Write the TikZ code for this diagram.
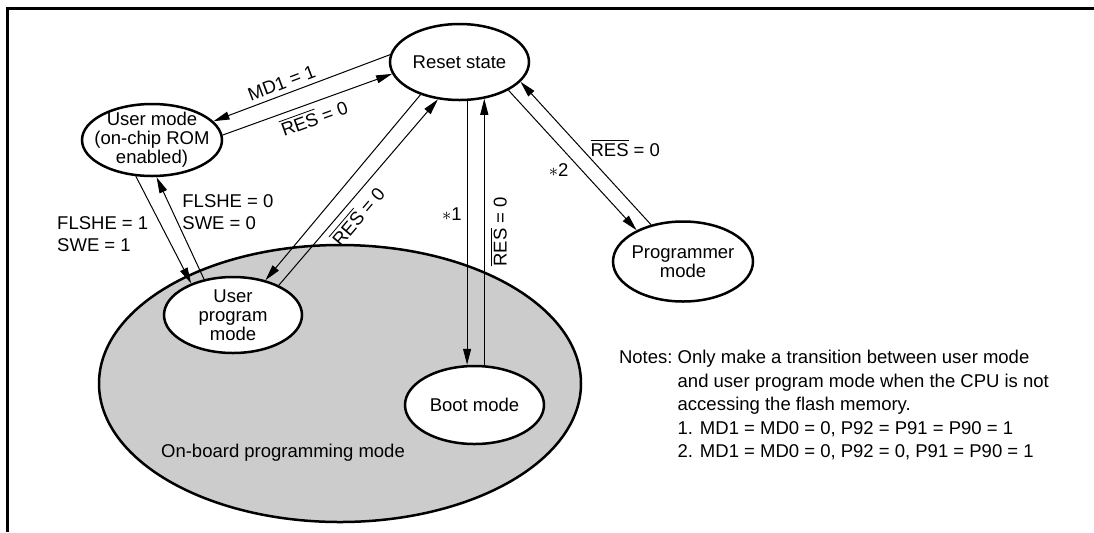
\documentclass[tikz,border=0pt]{standalone}
\usepackage{fontspec}
\setmainfont{Liberation Sans}
\usetikzlibrary{arrows.meta,shapes.geometric}
\definecolor{boardgray}{RGB}{204,204,204}
\newcommand{\resbar}{$\overline{\hbox{RES}}$}
\tikzset{
    state/.style={ellipse,draw,line width=1.25pt,fill=white,align=center,inner sep=-5pt,font=\fontsize{9.25}{9.4}\selectfont},
    board/.style={ellipse,draw,line width=1.25pt,fill=boardgray},
    lbl/.style={font=\fontsize{9.25}{11}\selectfont,inner sep=2.5pt},
    arrow/.style={-{Triangle[length=8pt,width=4pt]},line width=0.5pt},
    back/.style={{Triangle[length=8pt,width=4pt]}-,line width=0.5pt}
}

\begin{document}
\begin{tikzpicture}[x=0.5pt,y=-0.5pt]
    \useasboundingbox (0,0) rectangle (1094,532);
    \draw[line width=1.5pt] (1094,8.5) -- (7.5,8.5) -- (7.5,532);
    \node[board,minimum width=241pt,minimum height=138.5pt] (board) at (340,383.5) {};
    \node[lbl] (boardtext) at (283,453) {On-board programming mode};
    \node[state,minimum width=69.5pt,minimum height=38pt] (reset) at (459.5,62) {Reset state};
    \node[state,minimum width=70pt,minimum height=36pt] (user) at (152,140) {User mode\\(on-chip ROM\\enabled)};
    \node[state,minimum width=69pt,minimum height=38pt] (upm) at (233,315) {User\\program\\mode};
    \node[state,minimum width=69.5pt,minimum height=39pt] (boot) at (474.5,405) {Boot mode};
    \node[state,minimum width=70pt,minimum height=40pt] (prog) at (683,261.5) {Programmer\\mode};
    \draw[back] (user.17) -- node[lbl,sloped,above,pos=0.41] (lmd) {MD1 = 1} (reset.174);
    \draw[arrow] (user.4) -- node[lbl,sloped,below,pos=0.51] (lres1) {\resbar{} = 0} (reset.190);
    \draw[arrow] (user.246) -- node[lbl,left=6pt,pos=0.54,align=left] (lfl1) {FLSHE = 1\\SWE = 1} (upm.143);
    \draw[arrow] (upm.129) -- node[lbl,right=2pt,pos=0.655,align=left] (lfl0) {FLSHE = 0\\SWE = 0} (user.277);
    \draw[arrow] (reset.220) -- (upm.47);
    \draw[arrow] (upm.33) -- node[lbl,sloped,below,pos=0.425] (lres2) {\resbar{} = 0} (reset.240);
    \draw[arrow] (reset.281) -- node[lbl,left,pos=0.43] (lboot) {$\ast$1} (reset.281 |- boot.north);
    \draw[arrow] (reset.304 |- boot.north) -- node[lbl,sloped,below,pos=0.5] (lres3) {\resbar{} = 0} (reset.304);
    \draw[arrow] (reset.330) -- node[lbl,left=4pt,pos=0.573] (lprog) {$\ast$2} (prog.146);
    \draw[arrow] (prog.131) -- node[lbl,right=2pt,pos=0.536] (lres4) {\resbar{} = 0} (reset.342);
    \node[lbl,anchor=base west,inner sep=0pt,font=\fontsize{9.25}{11.75}\selectfont] (notes) at (618.7,363.6) {%
        \begin{tabular}[t]{@{}l@{\ }l@{}}
        Notes: & Only make a transition between user mode\\
               & and user program mode when the CPU is not\\
               & accessing the flash memory.\\
               & 1. MD1 = MD0 = 0, P92 = P91 = P90 = 1\\
               & 2. MD1 = MD0 = 0, P92 = 0, P91 = P90 = 1
        \end{tabular}};
\end{tikzpicture}
\end{document}
